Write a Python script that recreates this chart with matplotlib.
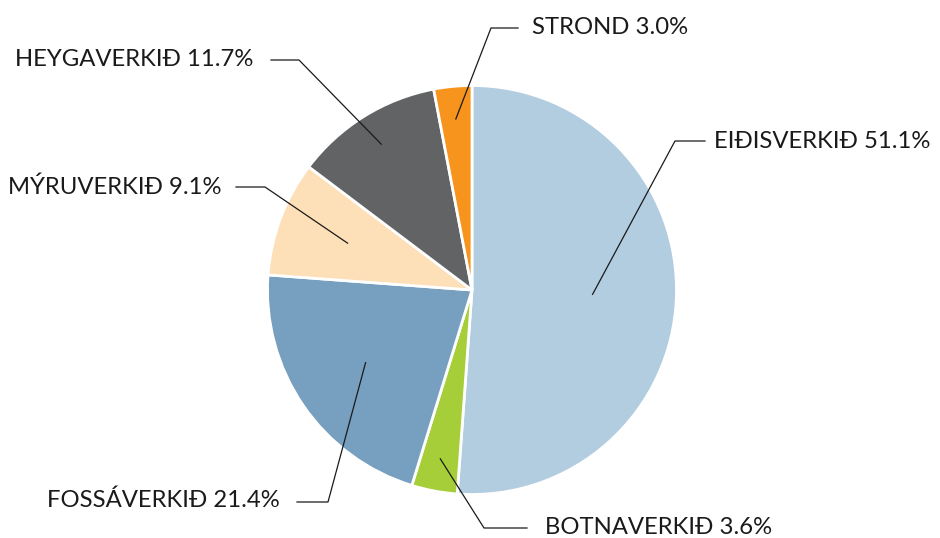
import numpy as np
import matplotlib
matplotlib.use("Agg")
import matplotlib.pyplot as plt

labels = ["EIÐISVERKIÐ", "BOTNAVERKIÐ", "FOSSÁVERKIÐ", "MÝRUVERKIÐ", "HEYGAVERKIÐ", "STROND"]
values = [51.1, 3.6, 21.4, 9.1, 11.7, 3.0]
colors = ["#b3cde0", "#a6ce39", "#769fc0", "#fde0b8", "#616365", "#f7941d"]

# layout: anchor radius fraction, elbow point, text position, alignment (pixel coords, y from top)
anchor_r = [0.59, 0.84, 0.63, 0.65, 0.84, 0.84]
elbows = [(675, 141), (484, 528), (328, 502), (265, 187), (299, 60), (491, 28)]
line_ends = [(705, 141), (527, 528), (297, 502), (236, 187), (271, 60), (518, 28)]
text_pos = [(714, 141), (545, 527), (280, 500), (222, 187), (253, 60), (532, 28)]
aligns = ["left", "left", "right", "right", "right", "left"]

W, H = 940, 538
fig = plt.figure(figsize=(W / 100, H / 100), dpi=100)
ax = fig.add_axes([0, 0, 1, 1])

cx, cy, R = 472, H - 290, 204.5
wedges, _ = ax.pie(values, colors=colors, startangle=90, counterclock=False,
                   center=(cx, cy), radius=R, frame=True,
                   wedgeprops=dict(edgecolor="white", linewidth=2))
ax.set_xlim(0, W)
ax.set_ylim(0, H)
ax.set_aspect("equal")
ax.axis("off")

for i, w in enumerate(wedges):
    mid = np.deg2rad((w.theta1 + w.theta2) / 2)
    ax_pt = (cx + anchor_r[i] * R * np.cos(mid), cy + anchor_r[i] * R * np.sin(mid))
    ex, ey = elbows[i]
    lx, ly = line_ends[i]
    ax.plot([ax_pt[0], ex, lx], [ax_pt[1], H - ey, H - ly], color="#1a1a1a", lw=0.9)
    tx, ty = text_pos[i]
    ax.text(tx, H - ty, f"{labels[i]} {values[i]:.1f}%", ha=aligns[i], va="center",
            fontsize=17.2, family=["Lato", "DejaVu Sans"], fontweight="normal", color="#1a1a1a")

fig.savefig("out.png", dpi=100)
